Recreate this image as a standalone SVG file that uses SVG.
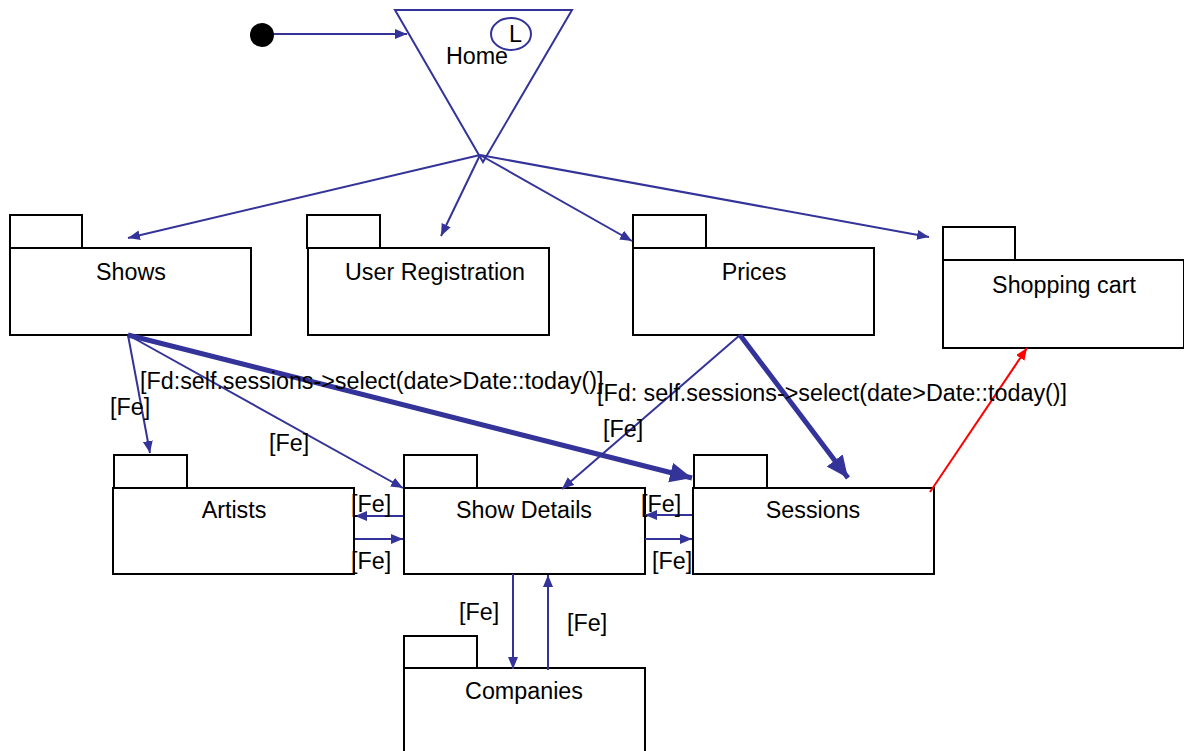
<svg xmlns="http://www.w3.org/2000/svg" width="1184" height="751" viewBox="0 0 1184 751">
<style>
.box{fill:#fff;stroke:#000;stroke-width:2}
.t{font-family:"Liberation Sans",Arial,sans-serif;font-size:23.3px;fill:#000}
.c{text-anchor:middle}
.cn{fill:none;stroke:#333399;stroke-width:2}
.thick{fill:none;stroke:#333399;stroke-width:5}
.red{fill:none;stroke:#ff0000;stroke-width:2}
</style>
<defs>
<marker id="ah" markerUnits="userSpaceOnUse" markerWidth="13" markerHeight="11" refX="12" refY="5" orient="auto"><path d="M0,0 L12,5 L0,10 z" fill="#333399"/></marker>
<marker id="ahT" markerUnits="userSpaceOnUse" markerWidth="23" markerHeight="21" refX="22" refY="10" orient="auto"><path d="M0,0 L22,10 L0,20 z" fill="#333399"/></marker>
<marker id="ahR" markerUnits="userSpaceOnUse" markerWidth="13" markerHeight="11" refX="12" refY="5" orient="auto"><path d="M0,0 L12,5 L0,10 z" fill="#ff0000"/></marker>
</defs>
<rect width="1184" height="751" fill="#fff"/>

<g id="initial"><circle cx="262" cy="35" r="12" fill="#000"/></g>

<g id="home">
<polygon points="395,10 572,10 483,162" fill="#fff" stroke="#333399" stroke-width="2"/>
<ellipse cx="511" cy="34" rx="20" ry="16" fill="#fff" stroke="#333399" stroke-width="2"/>
<text class="t" x="509" y="42">L</text>
<text class="t c" x="477" y="64">Home</text>
</g>

<g id="shows"><rect class="box" x="10" y="215" width="72" height="33"/><rect class="box" x="10" y="248" width="241" height="87"/><text class="t c" x="131" y="280">Shows</text></g>
<g id="userreg"><rect class="box" x="307" y="215" width="73" height="33"/><rect class="box" x="308" y="248" width="241" height="87"/><text class="t c" x="435" y="280">User Registration</text></g>
<g id="prices"><rect class="box" x="633" y="215" width="73" height="33"/><rect class="box" x="633" y="248" width="241" height="87"/><text class="t c" x="754" y="280">Prices</text></g>
<g id="cart"><rect class="box" x="943" y="227" width="72" height="33"/><rect class="box" x="943" y="260" width="241" height="88"/><text class="t c" x="1064" y="293">Shopping cart</text></g>
<g id="artists"><rect class="box" x="114" y="455" width="73" height="33"/><rect class="box" x="113" y="488" width="241" height="86"/><text class="t c" x="234" y="518">Artists</text></g>
<g id="showdetails"><rect class="box" x="404" y="455" width="73" height="33"/><rect class="box" x="404" y="488" width="241" height="86"/><text class="t c" x="524" y="518">Show Details</text></g>
<g id="sessions"><rect class="box" x="694" y="455" width="73" height="33"/><rect class="box" x="693" y="488" width="241" height="86"/><text class="t c" x="813" y="518">Sessions</text></g>
<g id="companies"><rect class="box" x="404" y="636" width="73" height="32"/><rect class="box" x="404" y="668" width="241" height="90"/><text class="t c" x="524" y="699">Companies</text></g>

<g id="connectors">
<line class="cn" x1="274" y1="34" x2="407" y2="34" marker-end="url(#ah)"/>
<line class="cn" x1="480" y1="155" x2="128" y2="238" marker-end="url(#ah)"/>
<line class="cn" x1="480" y1="155" x2="441" y2="236" marker-end="url(#ah)"/>
<line class="cn" x1="480" y1="155" x2="632" y2="241" marker-end="url(#ah)"/>
<line class="cn" x1="480" y1="155" x2="929" y2="237" marker-end="url(#ah)"/>
<line class="cn" x1="128" y1="335" x2="150" y2="453" marker-end="url(#ah)"/>
<line class="cn" x1="128" y1="335" x2="403" y2="488" marker-end="url(#ah)"/>
<line class="thick" x1="128" y1="335" x2="692" y2="478" marker-end="url(#ahT)"/>
<line class="cn" x1="740" y1="335" x2="562" y2="489" marker-end="url(#ah)"/>
<line class="thick" x1="740" y1="335" x2="848" y2="478" marker-end="url(#ahT)"/>
<line class="red" x1="930" y1="492" x2="1027" y2="348" marker-end="url(#ahR)"/>
<line class="cn" x1="403" y1="516" x2="355" y2="516" marker-end="url(#ah)"/>
<line class="cn" x1="355" y1="539" x2="403" y2="539" marker-end="url(#ah)"/>
<line class="cn" x1="692" y1="515" x2="645" y2="515" marker-end="url(#ah)"/>
<line class="cn" x1="645" y1="539" x2="692" y2="539" marker-end="url(#ah)"/>
<line class="cn" x1="513" y1="574" x2="513" y2="669" marker-end="url(#ah)"/>
<line class="cn" x1="548" y1="670" x2="548" y2="575" marker-end="url(#ah)"/>
</g>

<g id="labels">
<text class="t" x="140" y="389">[Fd:self.sessions-&gt;select(date&gt;Date::today()]</text>
<text class="t" x="110" y="415">[Fe]</text>
<text class="t" x="269" y="451">[Fe]</text>
<text class="t" x="597" y="401">[Fd: self.sessions-&gt;select(date&gt;Date::today()]</text>
<text class="t" x="603" y="437">[Fe]</text>
<text class="t" x="351" y="512">[Fe]</text>
<text class="t" x="351" y="569">[Fe]</text>
<text class="t" x="641" y="512">[Fe]</text>
<text class="t" x="652" y="569">[Fe]</text>
<text class="t" x="459" y="620">[Fe]</text>
<text class="t" x="567" y="631">[Fe]</text>
</g>
</svg>
